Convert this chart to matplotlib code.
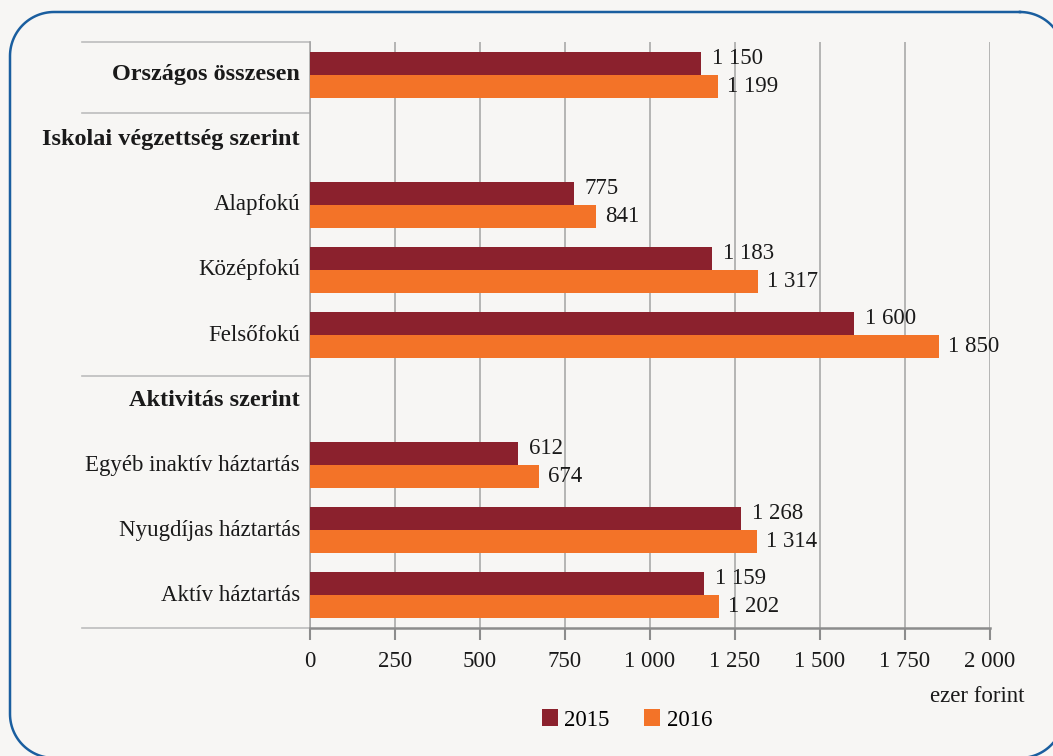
import matplotlib.pyplot as plt
from matplotlib.transforms import blended_transform_factory, offset_copy
import numpy as np

plt.rcParams['font.family'] = ['Liberation Serif', 'DejaVu Serif']

categories = ['Országos összesen', 'Iskolai végzettség szerint', 'Alapfokú', 'Középfokú',
              'Felsőfokú', 'Aktivitás szerint', 'Egyéb inaktív háztartás',
              'Nyugdíjas háztartás', 'Aktív háztartás']
bold_rows = ['Országos összesen', 'Iskolai végzettség szerint', 'Aktivitás szerint']
v2015 = [1150, None, 775, 1183, 1600, None, 612, 1268, 1159]
v2016 = [1199, None, 841, 1317, 1850, None, 674, 1314, 1202]
xticks = [0, 250, 500, 750, 1000, 1250, 1500, 1750, 2000]
separators = [-0.5, 0.59, 4.63, 8.5]

c2015 = '#8B212D'
c2016 = '#F37328'
bg = '#F7F6F4'
grid_c = '#A3A3A3'
fs = 16.5


def fmt(v):
    return f'{v:,}'.replace(',', ' ')


def rounded_rect(x0, y0, x1, y1, r, n=30):
    # outline of a rounded rectangle in pixel space (y pointing down)
    pts = []
    corners = [(x1 - r, y0 + r, -90, 0), (x1 - r, y1 - r, 0, 90),
               (x0 + r, y1 - r, 90, 180), (x0 + r, y0 + r, 180, 270)]
    for cx, cy, a0, a1 in corners:
        t = np.radians(np.linspace(a0, a1, n))
        pts += list(zip(cx + r * np.cos(t), cy + r * np.sin(t)))
    pts.append(pts[0])
    return np.array(pts)


fig = plt.figure(figsize=(10.53, 7.56), dpi=100)
fig.patch.set_facecolor(bg)

frame_ax = fig.add_axes([0, 0, 1, 1])
frame_ax.set_xlim(0, 1053)
frame_ax.set_ylim(756, 0)
frame_ax.axis('off')
outline = rounded_rect(10, 12, 1064, 758, 44)
frame_ax.plot(outline[:, 0], outline[:, 1], color='#1A5E9F', linewidth=1.8)

ax = fig.add_axes([0.2944, 0.1693, 0.6458, 0.7751])
ax.set_facecolor('none')
y = np.arange(len(categories))
h = 0.353
ys15 = [i - h / 2 for i, v in zip(y, v2015) if v is not None]
ys16 = [i + h / 2 for i, v in zip(y, v2016) if v is not None]
vals15 = [v for v in v2015 if v is not None]
vals16 = [v for v in v2016 if v is not None]
ax.barh(ys15, vals15, height=h, color=c2015, label='2015', zorder=3)
ax.barh(ys16, vals16, height=h, color=c2016, label='2016', zorder=3)

for yy, v in zip(ys15, vals15):
    ax.annotate(fmt(v), (v, yy), xytext=(11, 5), textcoords='offset pixels',
                ha='left', va='center', fontsize=fs, color='#1a1a1a', zorder=4)
for yy, v in zip(ys16, vals16):
    ax.annotate(fmt(v), (v, yy), xytext=(9, 0), textcoords='offset pixels',
                ha='left', va='center', fontsize=fs, color='#1a1a1a', zorder=4)

ax.set_xlim(0, 2000)
ax.set_ylim(8.5, -0.5)
ax.set_xticks(xticks)
ax.set_xticklabels([fmt(t) for t in xticks], fontsize=fs, color='#1a1a1a')
ax.tick_params(axis='x', direction='out', length=8.5, width=1.5, color='#8C8C8C', pad=8)
ax.set_yticks([])
ax.grid(axis='x', color=grid_c, linewidth=1.1, zorder=0)
for s in ['top', 'right']:
    ax.spines[s].set_visible(False)
ax.spines['bottom'].set_color('#8C8C8C')
ax.spines['bottom'].set_linewidth(1.8)
ax.spines['left'].set_color(grid_c)
ax.spines['left'].set_linewidth(1.1)

trans = blended_transform_factory(ax.transAxes, ax.transData)
for s in separators:
    ax.plot([-0.335, 0], [s, s], color='#BDBDBD', linewidth=1.2, transform=trans, clip_on=False)

lab_trans = offset_copy(trans, fig=fig, x=-10, y=0, units='dots')
for i, name in enumerate(categories):
    bold = name in bold_rows
    ax.text(0, i, name, transform=lab_trans, ha='right', va='center',
            fontsize=17.5 if bold else fs,
            fontweight='bold' if bold else 'normal', color='#1a1a1a')

fig.text(1025 / 1053, 1 - 697 / 756, 'ezer forint', ha='right', va='center', fontsize=fs, color='#1a1a1a')

leg = fig.legend(loc='center', bbox_to_anchor=(627 / 1053, 1 - 720 / 756), ncol=2, frameon=False,
                 fontsize=fs, handlelength=0.7, handleheight=0.7, handletextpad=0.3,
                 columnspacing=1.5)

fig.savefig('out.png', dpi=100, facecolor=bg)
